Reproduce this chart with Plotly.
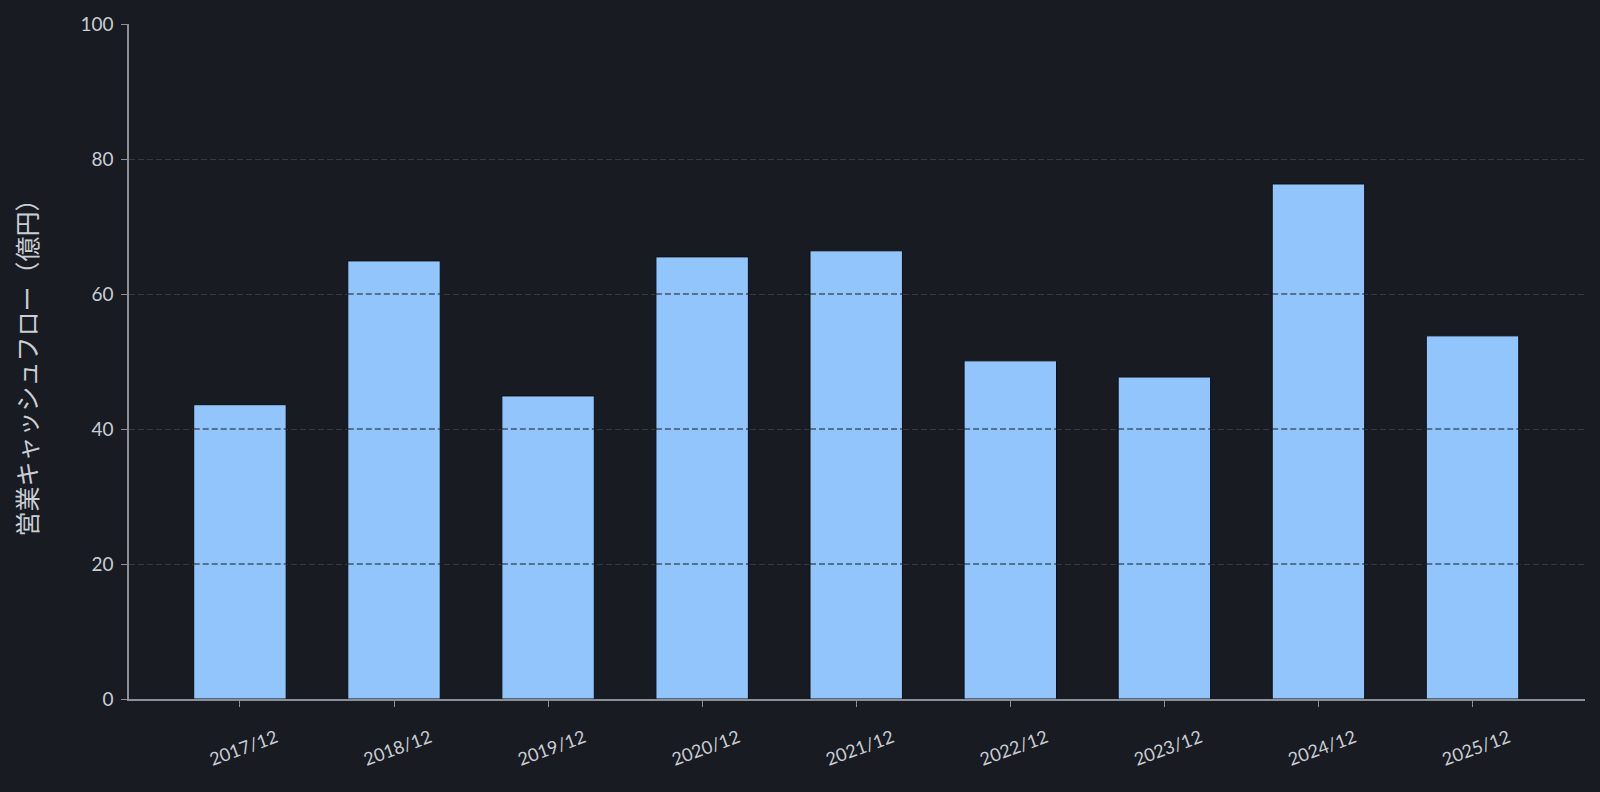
import plotly.graph_objects as go

# 決算期と営業キャッシュフロー（億円）
periods = ["2017/12", "2018/12", "2019/12", "2020/12", "2021/12",
           "2022/12", "2023/12", "2024/12", "2025/12"]
operating_cf = [43.6, 64.9, 44.9, 65.5, 66.4, 50.1, 47.7, 76.3, 53.8]
y_ticks = [0, 20, 40, 60, 80, 100]

bg = "#181b22"
txt = "#c9cdd4"
axis_col = "#8a8f98"
grid_col = "#363940"
bar_w = 0.6

fig = go.Figure()
fig.add_trace(go.Bar(
    x=periods,
    y=operating_cf,
    width=bar_w,
    marker=dict(color="#92c5fb", line=dict(color="#0d0f13", width=1)),
    hoverinfo="x+y",
))

# grid shows through the bars as dark dashes in the original
for i, v in enumerate(operating_cf):
    for t in y_ticks[1:]:
        if t < v:
            fig.add_shape(type="line", xref="x", x0=i - bar_w / 2, x1=i + bar_w / 2,
                          yref="y", y0=t, y1=t, layer="above",
                          line=dict(color="#1b1e24", width=1.2, dash="6px,3px"))

fig.update_layout(
    width=1600, height=792,
    paper_bgcolor=bg, plot_bgcolor=bg,
    font=dict(family="Lato, 'Noto Sans CJK JP', sans-serif", color=txt, size=19),
    margin=dict(l=129, r=15, t=24, b=93),
    showlegend=False,
)
fig.update_xaxes(
    range=[-0.72, 8.73],
    tickangle=-20,
    ticks="outside", ticklen=6, tickcolor=axis_col,
    showline=True, linecolor=axis_col, linewidth=1.5,
    showgrid=False, zeroline=False,
    tickfont=dict(size=18),
    ticklabelshift=36,
    ticklabelstandoff=14,
)
fig.update_yaxes(
    range=[0, 100],
    tickvals=y_ticks,
    ticks="outside", ticklen=6, tickcolor=axis_col,
    showline=True, linecolor=axis_col, linewidth=1.5,
    showgrid=True, gridcolor=grid_col, griddash="6px,3px", gridwidth=1,
    zeroline=False,
    tickfont=dict(size=19),
    ticklabelstandoff=4,
    title=dict(text="営業キャッシュフロー（億円）",
               font=dict(family="'Noto Sans CJK JP', sans-serif", size=25, color=txt),
               standoff=36),
)

fig.write_html(
    "out.html",
    config={"displayModeBar": False},
    post_script="document.body.style.margin='0';document.body.style.background='#181b22';",
)
